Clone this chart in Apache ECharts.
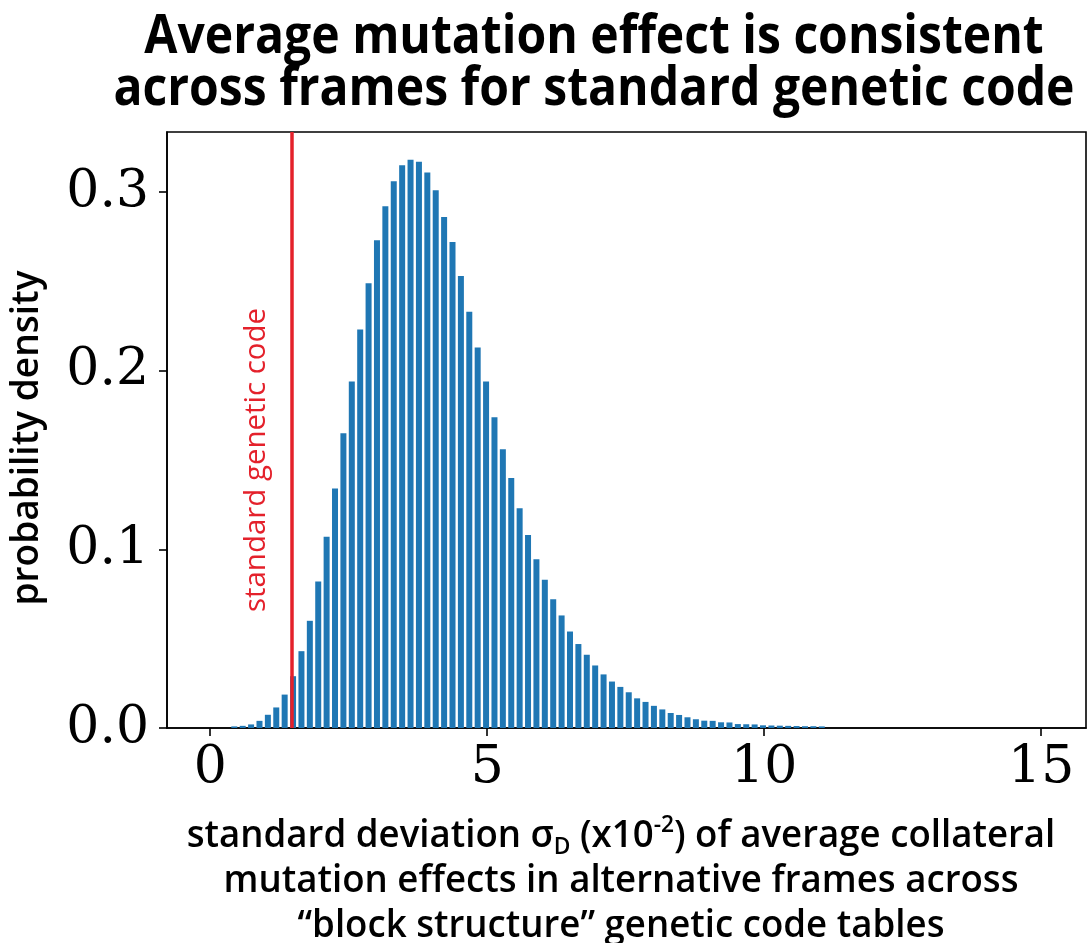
<!DOCTYPE html>
<html>
<head>
<meta charset="utf-8">
<title>Average mutation effect</title>
<script src="https://cdn.jsdelivr.net/npm/echarts@6/dist/echarts.min.js"></script>
<style>
	html, body { margin: 0; padding: 0; background: #fff; }
	#container { width: 1092px; height: 943px; }
</style>
</head>
<body>
<div id="container"></div>
<script>
// histogram: first bin centre and bin width (x10^-2)
var binFirst = 0.435;
var binStep = 0.1515;
// probability density per bin
var density = [
	0.0009, 0.0012, 0.0020, 0.0040, 0.0074, 0.0115, 0.0187, 0.029, 0.043, 0.060,
	0.082, 0.107, 0.134, 0.165, 0.194, 0.223, 0.249, 0.273, 0.292, 0.306,
	0.315, 0.318, 0.317, 0.311, 0.301, 0.286, 0.272, 0.253, 0.233, 0.213,
	0.194, 0.174, 0.156, 0.140, 0.123, 0.108, 0.0945, 0.083, 0.072, 0.063,
	0.054, 0.047, 0.041, 0.035, 0.030, 0.026, 0.023, 0.020, 0.0166, 0.0146,
	0.0124, 0.0104, 0.0084, 0.0073, 0.0060, 0.0049, 0.0041, 0.0040, 0.0032, 0.0031,
	0.0022, 0.0021, 0.0020, 0.0015, 0.0014, 0.0013, 0.0012, 0.0011, 0.0010, 0.0010,
	0.0009
];
// value of the standard genetic code
var standardCode = 1.475;
var xTicks = [0, 5, 10, 15];
var yTicks = [0, 0.1, 0.2, 0.3];

var titleLines = ['Average mutation effect is consistent', 'across frames for standard genetic code'];
var yName = 'probability density';
var xNameLines = [
	'standard deviation σ{sub|D} (x10{sup|-2}) of average collateral',
	'mutation effects in alternative frames across',
	'\u201cblock structure\u201d genetic code tables'
];
var codeLabel = 'standard genetic code';

var dom = document.getElementById('container');
var myChart = echarts.init(dom);

// measure text so the condensed lettering can be imitated with scaleX
var ctx = document.createElement('canvas').getContext('2d');
function fitScale(text, font, target) {
	ctx.font = font;
	return target / ctx.measureText(text).width;
}

var sans = '"Open Sans", "Noto Sans", sans-serif';
var serif = '"DejaVu Serif", serif';

var titleScale = fitScale(titleLines[1], '700 54px "Open Sans"', 961);
var xNameScale = fitScale(xNameLines[1], '600 37px "Open Sans"', 795);
var yNameScale = fitScale(yName, '600 37px "Open Sans"', 335);
var codeScale = fitScale(codeLabel, '400 29px "Open Sans"', 304);

var barData = density.map(function(v, i) {
	return [binFirst + i * binStep, v];
});

var option = {
	animation: false,
	backgroundColor: '#fff',
	grid: {
		show: true,
		left: 167,
		right: 6,
		top: 132,
		bottom: 215,
		borderColor: '#000',
		borderWidth: 1.6,
		containLabel: false
	},
	xAxis: {
		type: 'value',
		min: -0.78,
		max: 15.81,
		splitLine: { show: false },
		axisLine: { show: true, onZero: false, lineStyle: { color: '#000', width: 1.6 } },
		axisTick: {
			show: true,
			length: 8,
			customValues: xTicks,
			lineStyle: { color: '#000', width: 1.6 }
		},
		axisLabel: {
			customValues: xTicks,
			margin: 14,
			color: '#000',
			fontFamily: serif,
			fontSize: 52
		}
	},
	yAxis: {
		type: 'value',
		min: 0,
		max: 0.3336,
		splitLine: { show: false },
		axisLine: { show: true, onZero: false, lineStyle: { color: '#000', width: 1.6 } },
		axisTick: {
			show: true,
			length: 8,
			customValues: yTicks,
			lineStyle: { color: '#000', width: 1.6 }
		},
		axisLabel: {
			customValues: yTicks,
			margin: 18,
			color: '#000',
			fontFamily: serif,
			fontSize: 52,
			formatter: function(v) {
				return v.toFixed(1);
			}
		}
	},
	series: [{
		name: 'density',
		type: 'bar',
		data: barData,
		barWidth: 6,
		itemStyle: { color: '#1f77b4' },
		markLine: {
			silent: true,
			symbol: ['none', 'none'],
			label: { show: false },
			lineStyle: { color: '#e4212b', width: 3.5, type: 'solid' },
			data: [{ xAxis: standardCode }]
		}
	}],
	graphic: [{
		type: 'text',
		x: 594,
		y: 64,
		scaleX: titleScale,
		style: {
			text: titleLines.join('\n'),
			align: 'center',
			verticalAlign: 'middle',
			fontFamily: sans,
			fontWeight: 700,
			fontSize: 54,
			lineHeight: 52,
			fill: '#000'
		}
	}, {
		type: 'text',
		x: 27,
		y: 438,
		rotation: Math.PI / 2,
		scaleX: yNameScale,
		style: {
			text: yName,
			align: 'center',
			verticalAlign: 'middle',
			fontFamily: sans,
			fontWeight: 600,
			fontSize: 37,
			fill: '#000'
		}
	}, {
		type: 'text',
		x: 257,
		y: 460,
		rotation: Math.PI / 2,
		scaleX: codeScale,
		style: {
			text: codeLabel,
			align: 'center',
			verticalAlign: 'middle',
			fontFamily: sans,
			fontWeight: 400,
			fontSize: 29,
			fill: '#e4212b'
		}
	}, {
		type: 'text',
		x: 621,
		y: 881,
		scaleX: xNameScale,
		style: {
			text: xNameLines.join('\n'),
			align: 'center',
			verticalAlign: 'middle',
			fontFamily: sans,
			fontWeight: 600,
			fontSize: 37,
			lineHeight: 45,
			fill: '#000',
			rich: {
				sub: {
					fontFamily: sans,
					fontWeight: 600,
					fontSize: 23,
					lineHeight: 23,
					verticalAlign: 'bottom',
					fill: '#000'
				},
				sup: {
					fontFamily: sans,
					fontWeight: 600,
					fontSize: 23,
					lineHeight: 23,
					verticalAlign: 'top',
					fill: '#000'
				}
			}
		}
	}]
};
myChart.setOption(option);
</script>
</body>
</html>
